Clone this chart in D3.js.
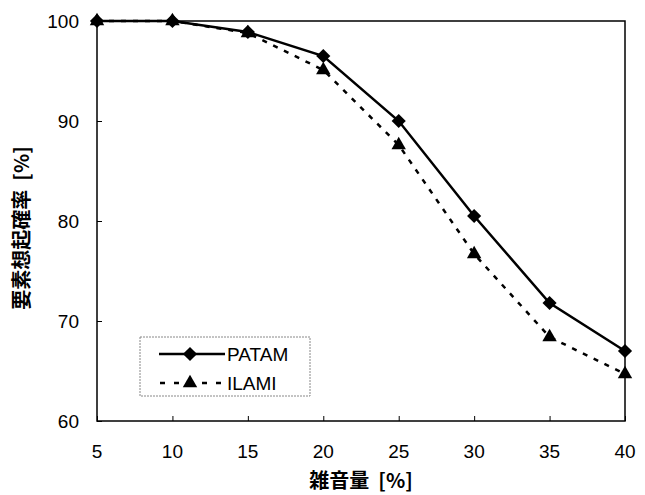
<!DOCTYPE html>
<html>
<head>
<meta charset="utf-8">
<script src="https://cdn.jsdelivr.net/npm/d3@7"></script>
<style>
  body { margin: 0; background: #fff; }
  text { font-family: "Liberation Sans", Arial, sans-serif; fill: #000; }
  .jp { font-family: "Noto Sans CJK JP", sans-serif; font-weight: bold; }
</style>
</head>
<body>
<script>
const noise = [5, 10, 15, 20, 25, 30, 35, 40];
const patam = [100, 100, 98.9, 96.5, 90.0, 80.5, 71.8, 67.0];
const ilami = [100, 100, 98.8, 95.1, 87.6, 76.7, 68.4, 64.7];
const yTicks = [60, 70, 80, 90, 100];

const width = 645, height = 495;
const margin = {left: 97, right: 20, top: 21, bottom: 74};

const svg = d3.select("body").append("svg")
    .attr("width", width)
    .attr("height", height);

const x = d3.scaleLinear().domain([5, 40]).range([margin.left, width - margin.right]);
const y = d3.scaleLinear().domain([60, 100]).range([height - margin.bottom, margin.top]);

// plot frame
svg.append("rect")
    .attr("x", x(5)).attr("y", y(100))
    .attr("width", x(40) - x(5)).attr("height", y(60) - y(100))
    .attr("fill", "none").attr("stroke", "#000").attr("stroke-width", 1.5);

// axes with inward ticks
const xAxis = svg.append("g")
    .attr("transform", `translate(0,${y(60)})`)
    .call(d3.axisTop(x).tickValues(noise).tickSize(5).tickFormat(""));
xAxis.select(".domain").remove();
svg.append("g").selectAll("text").data(noise).enter().append("text")
    .attr("x", d => x(d)).attr("y", y(60) + 37)
    .attr("text-anchor", "middle").style("font-size", "19px")
    .text(d => d);

const yAxis = svg.append("g")
    .attr("transform", `translate(${x(5)},0)`)
    .call(d3.axisRight(y).tickValues(yTicks).tickSize(5).tickFormat(""));
yAxis.select(".domain").remove();
svg.append("g").selectAll("text").data(yTicks).enter().append("text")
    .attr("x", x(5) - 18).attr("y", d => y(d) + 7)
    .attr("text-anchor", "end").style("font-size", "19px")
    .text(d => d);

// axis titles
svg.append("text").attr("class", "jp")
    .attr("x", (x(5) + x(40)) / 2).attr("y", 488)
    .attr("text-anchor", "middle").style("font-size", "20px")
    .style("white-space", "pre")
    .text("雑音量  [%]");
svg.append("text").attr("class", "jp")
    .attr("transform", "translate(29,228) rotate(-90)")
    .attr("text-anchor", "middle").style("font-size", "20px")
    .style("white-space", "pre")
    .text("要素想起確率  [%]");

// series
const line = d3.line().x(d => x(d[0])).y(d => y(d[1]));
const diamond = d3.symbol().type(d3.symbolSquare).size(100);
const triangle = d3.symbol().type(d3.symbolTriangle).size(90);

const pData = noise.map((n, i) => [n, patam[i]]);
const iData = noise.map((n, i) => [n, ilami[i]]);

svg.append("path").datum(iData)
    .attr("d", line).attr("fill", "none")
    .attr("stroke", "#000").attr("stroke-width", 2.5)
    .attr("stroke-dasharray", "5,7");
svg.append("path").datum(pData)
    .attr("d", line).attr("fill", "none")
    .attr("stroke", "#000").attr("stroke-width", 2.5);

svg.append("g").selectAll("path").data(iData).enter().append("path")
    .attr("d", triangle)
    .attr("transform", d => `translate(${x(d[0])},${y(d[1])})`)
    .attr("fill", "#000");
svg.append("g").selectAll("path").data(pData).enter().append("path")
    .attr("d", diamond)
    .attr("transform", d => `translate(${x(d[0])},${y(d[1])}) rotate(45)`)
    .attr("fill", "#000");

// legend
const lg = svg.append("g");
lg.append("rect")
    .attr("x", 140).attr("y", 337).attr("width", 170).attr("height", 59)
    .attr("fill", "#fff").attr("stroke", "#888").attr("stroke-width", 1)
    .attr("stroke-dasharray", "2,1");
lg.append("line").attr("x1", 159).attr("x2", 225).attr("y1", 354).attr("y2", 354)
    .attr("stroke", "#000").attr("stroke-width", 2.5);
lg.append("path").attr("d", diamond).attr("transform", "translate(190,354) rotate(45)");
lg.append("line").attr("x1", 160).attr("x2", 225).attr("y1", 383).attr("y2", 383)
    .attr("stroke", "#000").attr("stroke-width", 2.5).attr("stroke-dasharray", "5,9");
lg.append("path").attr("d", triangle).attr("transform", "translate(190,383)");
lg.append("text").attr("x", 227).attr("y", 361).style("font-size", "19px").text("PATAM");
lg.append("text").attr("x", 227).attr("y", 390).style("font-size", "19px").text("ILAMI");
</script>
</body>
</html>
